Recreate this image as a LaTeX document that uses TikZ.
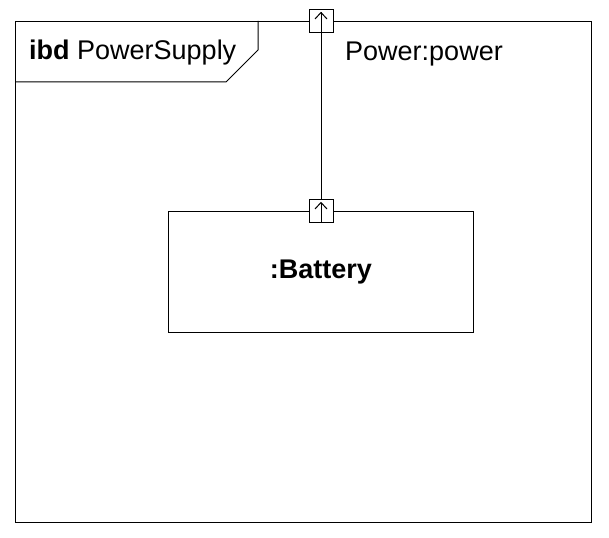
\documentclass[tikz,border=0pt]{standalone}
\usepackage{fontspec}
\setmainfont{Liberation Sans}
\begin{document}
\begin{tikzpicture}[x=1pt,y=-1pt,
  line/.style={draw=black,line width=1pt},
  portbox/.style={draw=black,line width=1pt,fill=white,minimum width=24pt,minimum height=23pt,inner sep=0pt},
  lbl/.style={inner sep=0pt,anchor=base west,font=\fontsize{27}{30}\selectfont}]
\useasboundingbox (0,0) rectangle (609,537);
\fill[white] (0,0) rectangle (609,537);
% frame
\node[draw=black,line width=1pt,minimum width=576pt,minimum height=501pt,anchor=north west,inner sep=0pt] (frame) at (15,21) {};
\draw[line] (15,82) -- (226,82) -- (258,50) -- (258,21);
\node[lbl] (title) at (29,60) {\textbf{ibd} PowerSupply};
% battery
\node[draw=black,line width=1pt,minimum width=305pt,minimum height=121pt,anchor=north west,inner sep=0pt,
  font=\bfseries\fontsize{27}{30}\selectfont] (bat) at (168,211) {:Battery};
% ports
\node[portbox] (p1) at (321,21) {};
\node[portbox] (p2) at (321,211) {};
\draw[line] (p1.south) -- (p2.north);
\foreach \p in {p1,p2}{
  \draw[line] (\p.south) -- ([yshift=-3.5pt]\p.north);
  \draw[line] ([xshift=-6pt,yshift=-10pt]\p.north) -- ([yshift=-3.5pt]\p.north) -- ([xshift=6pt,yshift=-10pt]\p.north);
}
\node[lbl] (plabel) at (345,61) {Power:power};
\end{tikzpicture}
\end{document}
